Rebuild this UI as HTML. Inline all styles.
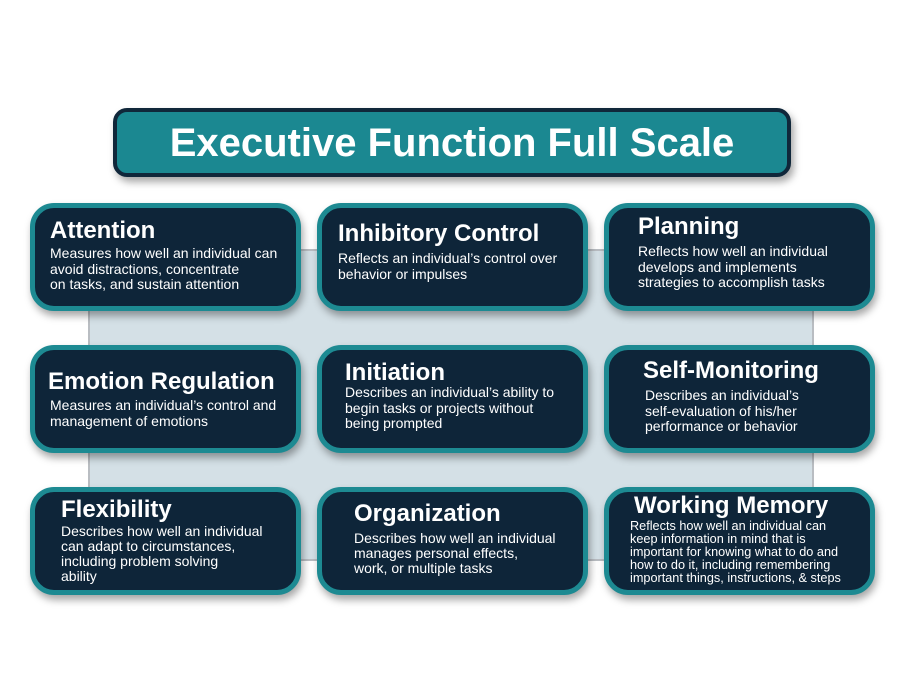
<!DOCTYPE html>
<html><head><meta charset="utf-8"><style>
body{margin:0;width:900px;height:695px;background:#fff;position:relative;overflow:hidden;font-family:"Liberation Sans",sans-serif;}
.panel{position:absolute;left:88px;top:249px;width:722px;height:308px;background:#d4e0e6;border:2px solid #b9bdc2;}
.title{position:absolute;left:113px;top:108px;width:670px;height:61px;background:#1b8891;border:4px solid #10273a;border-radius:14px;box-shadow:3px 5px 8px rgba(0,0,0,.35);color:#fff;font-size:40px;font-weight:bold;text-align:center;line-height:63px;}
.b{position:absolute;width:261px;height:98px;background:#0e2539;border:5px solid #1d8a92;border-radius:24px;box-shadow:2px 5px 8px rgba(0,0,0,.35);}
.h{position:absolute;color:#fff;font-weight:bold;font-size:24px;white-space:nowrap;line-height:26px;}
.t{position:absolute;color:#fff;font-size:14px;line-height:15.5px;white-space:nowrap;}
</style></head><body>
<div class="panel"></div>
<div class="title">Executive Function Full Scale</div>

<div class="b" style="left:30px;top:203px"></div>
<div class="b" style="left:317px;top:203px"></div>
<div class="b" style="left:604px;top:203px"></div>
<div class="b" style="left:30px;top:345px"></div>
<div class="b" style="left:317px;top:345px"></div>
<div class="b" style="left:604px;top:345px"></div>
<div class="b" style="left:30px;top:487px"></div>
<div class="b" style="left:317px;top:487px"></div>
<div class="b" style="left:604px;top:487px"></div>

<div class="h" style="left:50px;top:218px">Attention</div>
<div class="t" style="left:50px;top:246px">Measures how well an individual can<br>avoid distractions, concentrate<br>on tasks, and sustain attention</div>

<div class="h" style="left:338px;top:221px">Inhibitory Control</div>
<div class="t" style="left:338px;top:251px">Reflects an individual’s control over<br>behavior or impulses</div>

<div class="h" style="left:638px;top:214px">Planning</div>
<div class="t" style="left:638px;top:244px">Reflects how well an individual<br>develops and implements<br>strategies to accomplish tasks</div>

<div class="h" style="left:48px;top:369px">Emotion Regulation</div>
<div class="t" style="left:50px;top:398px">Measures an individual’s control and<br>management of emotions</div>

<div class="h" style="left:345px;top:360px">Initiation</div>
<div class="t" style="left:345px;top:385px">Describes an individual’s ability to<br>begin tasks or projects without<br>being prompted</div>

<div class="h" style="left:643px;top:358px">Self-Monitoring</div>
<div class="t" style="left:645px;top:388px">Describes an individual’s<br>self-evaluation of his/her<br>performance or behavior</div>

<div class="h" style="left:61px;top:497px">Flexibility</div>
<div class="t" style="left:61px;top:524px;line-height:15px">Describes how well an individual<br>can adapt to circumstances,<br>including problem solving<br>ability</div>

<div class="h" style="left:354px;top:501px">Organization</div>
<div class="t" style="left:354px;top:531px;line-height:15px">Describes how well an individual<br>manages personal effects,<br>work, or multiple tasks</div>

<div class="h" style="left:634px;top:493px">Working Memory</div>
<div class="t" style="left:630px;top:520px;font-size:12.7px;line-height:13px">Reflects how well an individual can<br>keep information in mind that is<br>important for knowing what to do and<br>how to do it, including remembering<br>important things, instructions, &amp; steps</div>
</body></html>
